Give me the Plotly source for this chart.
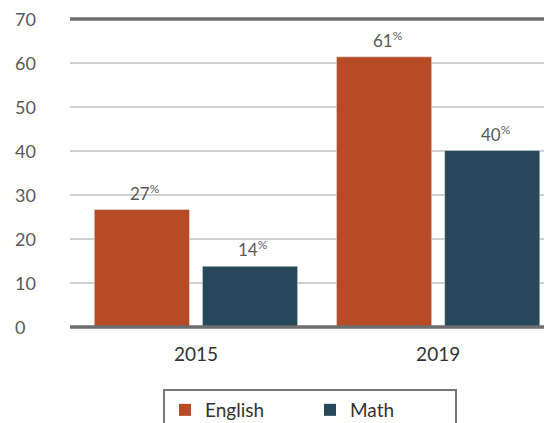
import plotly.graph_objects as go

categories = ["2015", "2019"]
series_names = ["English", "Math"]
english = [26.7, 61.4]
math_vals = [13.8, 40.1]
y_ticks = [0, 10, 20, 30, 40, 50, 60, 70]

ORANGE = "#B64B26"
NAVY = "#27485A"
FONT = "Lato"

def labels(vals):
    return [f"{round(v)}<sup>%</sup>" for v in vals]

fig = go.Figure()
for name, vals, col in [(series_names[0], english, ORANGE), (series_names[1], math_vals, NAVY)]:
    fig.add_bar(x=categories, y=vals, name=name, marker_color=col, showlegend=False)
# legend entries with larger square symbols
for name, col in [(series_names[0], ORANGE), (series_names[1], NAVY)]:
    fig.add_scatter(x=[None], y=[None], mode="markers", name=name,
                    marker=dict(symbol="square", size=17, color=col))

# value labels above bars (x given as category index)
for vals, shift in [(english, -54), (math_vals, 54)]:
    for i, (v, t) in enumerate(zip(vals, labels(vals))):
        fig.add_annotation(x=i, y=v, xref="x", yref="y", text=t, showarrow=False,
                           xshift=shift + 3, yshift=4, yanchor="bottom",
                           font=dict(color="#595959", size=17, family=FONT))

# page body has an 8px margin, so the figure is offset by 8px
OFF = 8
W, H = 552 - OFF, 423 - OFF
L, T = 70 - OFF, 19 - OFF
plot_bottom = 327 - OFF
B = H - plot_bottom
R = 0
pw = W - L - R
ph = plot_bottom - T

for v in y_ticks:
    fig.add_annotation(text=str(v), x=-(L - (13 - OFF)) / pw, xref="paper", y=v, yref="y",
                       xanchor="left", yanchor="middle", showarrow=False,
                       font=dict(color="#595959", size=18, family=FONT))
for yp in (0, 1):
    fig.add_shape(type="line", xref="paper", x0=0, x1=1, yref="paper", y0=yp, y1=yp,
                  line=dict(color="#6E6E6E", width=3.5), layer="above")

fig.update_layout(
    width=W, height=H,
    margin=dict(l=L, r=R, t=T, b=B, autoexpand=False),
    plot_bgcolor="white", paper_bgcolor="white",
    barmode="group", bargap=0.107, bargroupgap=0.12,
    font=dict(family=FONT, color="#333333"),
    xaxis=dict(type="category", range=[-0.52, 1.47], tickfont=dict(size=19, color="#333333"),
               ticks="", ticklabelstandoff=14, showgrid=False, showline=False,
               automargin=False),
    yaxis=dict(range=[0, 70], tickvals=y_ticks, showticklabels=False,
               showgrid=True, gridcolor="#D0D0D0", gridwidth=2, zeroline=False,
               showline=False, automargin=False),
    showlegend=True,
    legend=dict(orientation="h", x=(163 - OFF - L) / pw, xanchor="left",
                y=-(389 - 327) / ph, yanchor="top",
                bordercolor="#777777", borderwidth=2,
                font=dict(size=19, color="#333333", family=FONT),
                entrywidth=100, itemsizing="constant"),
)

fig.write_html("out.html")
